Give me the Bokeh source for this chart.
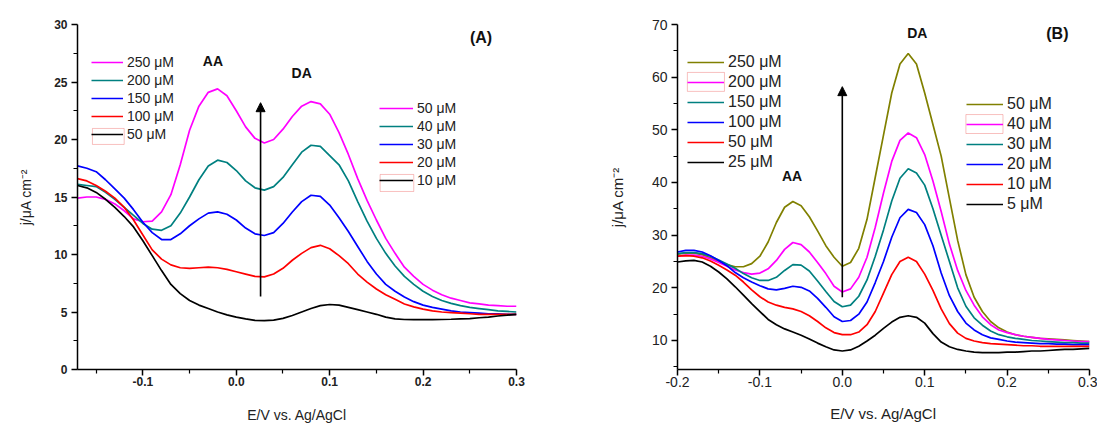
from bokeh.plotting import figure
from bokeh.layouts import row
from bokeh.models import (Legend, LegendItem, FixedTicker, NumeralTickFormatter,
                          Arrow, NormalHead, BoxAnnotation, Range1d, Label)
from bokeh.embed import file_html
from bokeh.resources import INLINE

# ---------------- Panel A data ----------------
E_A = [-0.17, -0.16, -0.15, -0.14, -0.13, -0.12, -0.11, -0.10, -0.09, -0.08,
       -0.07, -0.06, -0.05, -0.04, -0.03, -0.02, -0.01, 0.00, 0.01, 0.02,
       0.03, 0.04, 0.05, 0.06, 0.07, 0.08, 0.09, 0.10, 0.11, 0.12,
       0.13, 0.14, 0.15, 0.16, 0.17, 0.18, 0.19, 0.20, 0.21, 0.22,
       0.23, 0.24, 0.25, 0.26, 0.27, 0.28, 0.29, 0.30]

A_250 = [14.9, 15.0, 15.0, 14.8, 14.4, 13.8, 13.1, 12.85, 12.9, 13.7,
         15.2, 17.8, 20.8, 22.9, 24.1, 24.4, 23.8, 22.5, 21.1, 20.1,
         19.7, 20.0, 20.9, 22.0, 22.9, 23.3, 23.1, 22.2, 20.6, 18.7,
         16.6, 14.7, 13.0, 11.4, 10.1, 8.9, 8.1, 7.4, 6.9, 6.5,
         6.2, 6.0, 5.8, 5.7, 5.6, 5.55, 5.5, 5.5]
A_200 = [16.1, 16.0, 15.9, 15.4, 14.8, 14.1, 13.4, 12.7, 12.2, 12.1,
         12.5, 13.6, 15.0, 16.5, 17.7, 18.2, 18.0, 17.3, 16.4, 15.8,
         15.6, 15.9, 16.7, 17.8, 18.9, 19.5, 19.4, 18.6, 17.8, 16.4,
         14.6, 12.9, 11.4, 10.1, 9.0, 8.1, 7.4, 6.8, 6.35, 6.0,
         5.75, 5.55, 5.4, 5.3, 5.2, 5.1, 5.05, 5.0]
A_150 = [17.7, 17.5, 17.2, 16.5, 15.7, 14.9, 13.9, 12.8, 11.9, 11.3,
         11.3, 11.8, 12.5, 13.1, 13.6, 13.7, 13.5, 13.0, 12.3, 11.8,
         11.65, 11.9, 12.7, 13.7, 14.6, 15.15, 15.05, 14.3, 13.2, 12.0,
         10.7, 9.4, 8.3, 7.4, 6.8, 6.3, 5.9, 5.6, 5.4, 5.25,
         5.1, 5.0, 4.95, 4.9, 4.85, 4.85, 4.8, 4.8]
A_100 = [16.6, 16.4, 16.0, 15.5, 14.9, 14.1, 13.0, 11.7, 10.4, 9.6,
         9.1, 8.85, 8.8, 8.85, 8.9, 8.85, 8.7, 8.5, 8.3, 8.1,
         8.05, 8.3, 8.8, 9.5, 10.1, 10.6, 10.8, 10.5, 9.9, 9.2,
         8.3, 7.6, 7.0, 6.5, 6.1, 5.7, 5.45, 5.25, 5.1, 5.0,
         4.95, 4.9, 4.85, 4.8, 4.8, 4.8, 4.8, 4.8]
A_50 = [16.0, 15.8, 15.4, 14.8, 14.1, 13.3, 12.4, 11.2, 9.9, 8.6,
        7.4, 6.6, 6.0, 5.6, 5.3, 5.0, 4.75, 4.55, 4.4, 4.27,
        4.25, 4.3, 4.45, 4.7, 5.0, 5.3, 5.55, 5.65, 5.6, 5.4,
        5.2, 5.0, 4.8, 4.55, 4.4, 4.35, 4.33, 4.33, 4.33, 4.35,
        4.37, 4.4, 4.42, 4.5, 4.55, 4.65, 4.72, 4.8]

A_series = [A_250, A_200, A_150, A_100, A_50]
A_colors = ["#FF00FF", "#008080", "#0000FF", "#FF0000", "#000000"]
A_labels_AA = ["250 μM", "200 μM", "150 μM", "100 μM", "50 μM"]
A_labels_DA = ["50 μM", "40 μM", "30 μM", "20 μM", "10 μM"]
A_peak_names = ["AA", "DA"]
A_peak_pos = [(-0.025, 26.8), (0.07, 25.8)]
A_xticks = [-0.1, 0.0, 0.1, 0.2, 0.3]
A_xminor = [-0.15, -0.05, 0.05, 0.15, 0.25]
A_yticks = [0, 5, 10, 15, 20, 25, 30]
A_yminor = [2.5, 7.5, 12.5, 17.5, 22.5, 27.5]

# ---------------- Panel B data ----------------
E_B = [-0.20, -0.19, -0.18, -0.17, -0.16, -0.15, -0.14, -0.13, -0.12, -0.11,
       -0.10, -0.09, -0.08, -0.07, -0.06, -0.05, -0.04, -0.03, -0.02, -0.01,
       0.00, 0.01, 0.02, 0.03, 0.04, 0.05, 0.06, 0.07, 0.08, 0.09,
       0.10, 0.11, 0.12, 0.13, 0.14, 0.15, 0.16, 0.17, 0.18, 0.19,
       0.20, 0.21, 0.22, 0.23, 0.24, 0.25, 0.26, 0.27, 0.28, 0.29, 0.30]

B_250 = [26.4, 26.6, 26.6, 26.3, 25.7, 25.0, 24.4, 24.0, 24.0, 24.6,
         26.0, 28.7, 32.4, 35.3, 36.4, 35.6, 33.5, 30.8, 28.0, 25.8,
         24.1, 24.8, 27.5, 33.0, 41.0, 49.0, 57.0, 62.5, 64.5, 62.5,
         57.0, 51.0, 45.0, 37.0, 29.0, 22.5, 18.2, 15.5, 13.6, 12.4,
         11.6, 11.1, 10.8, 10.6, 10.4, 10.3, 10.2, 10.1, 10.0, 9.9, 9.8]
B_200 = [26.0, 26.2, 26.2, 26.0, 25.5, 24.8, 24.1, 23.4, 22.9, 22.6,
         22.8, 23.6, 25.2, 27.3, 28.6, 28.2, 26.8, 24.8, 22.7, 20.3,
         19.2, 19.8, 22.0, 25.8, 31.5, 38.0, 44.0, 48.0, 49.4, 48.5,
         45.3, 40.3, 34.5, 28.3, 23.3, 19.5, 16.7, 14.5, 13.0, 12.0,
         11.5, 11.1, 10.8, 10.6, 10.4, 10.2, 10.1, 10.0, 9.9, 9.8, 9.8]
B_150 = [26.5, 26.7, 26.7, 26.5, 26.0, 25.3, 24.5, 23.7, 22.7, 21.9,
         21.4, 21.4, 22.0, 23.3, 24.4, 24.3, 23.2, 21.3, 19.3, 17.4,
         16.4, 16.7, 18.4, 21.5, 26.0, 31.0, 36.5, 40.8, 42.6, 41.8,
         39.5, 35.0, 30.0, 25.0, 20.0, 16.5, 14.3, 12.9, 11.8, 11.1,
         10.7, 10.4, 10.2, 10.0, 9.9, 9.8, 9.7, 9.6, 9.6, 9.5, 9.5]
B_100 = [26.8, 27.1, 27.1, 26.8, 26.1, 25.2, 24.2, 22.9, 21.9, 21.1,
         20.4, 19.8, 19.6, 19.9, 20.3, 20.1, 19.4, 18.0, 16.3, 14.5,
         13.6, 13.8, 15.0, 17.3, 21.0, 25.0, 29.6, 33.3, 34.9, 34.3,
         32.0, 28.0, 22.8, 18.5, 15.5, 13.3, 12.0, 11.1, 10.5, 10.2,
         9.9, 9.7, 9.6, 9.5, 9.4, 9.4, 9.3, 9.3, 9.2, 9.2, 9.2]
B_50 = [26.0, 26.1, 26.0, 25.7, 25.1, 24.3, 23.4, 22.4, 21.1, 19.6,
        18.3, 17.3, 16.7, 16.3, 16.0, 15.5, 14.7, 13.6, 12.4, 11.5,
        11.1, 11.1, 11.6, 13.0, 15.5, 19.0, 22.5, 25.0, 25.8, 25.0,
        22.6, 19.5, 16.0, 13.2, 11.4, 10.4, 9.9, 9.6, 9.4, 9.3,
        9.2, 9.1, 9.0, 9.0, 8.9, 8.9, 8.9, 8.9, 8.9, 8.9, 8.9]
B_25 = [24.9, 25.1, 25.2, 24.9, 24.1, 23.0, 21.7, 20.2, 18.6, 17.0,
        15.5, 14.0, 13.0, 12.2, 11.6, 11.0, 10.3, 9.5, 8.8, 8.2,
        8.0, 8.2, 8.9, 9.9, 11.0, 12.3, 13.5, 14.4, 14.7, 14.4,
        13.3, 11.3, 9.7, 8.8, 8.3, 8.0, 7.8, 7.7, 7.7, 7.7,
        7.8, 7.8, 7.9, 8.0, 8.0, 8.1, 8.2, 8.3, 8.3, 8.4, 8.5]

B_series = [B_250, B_200, B_150, B_100, B_50, B_25]
B_colors = ["#808000", "#FF00FF", "#008080", "#0000FF", "#FF0000", "#000000"]
B_labels_AA = ["250 μM", "200 μM", "150 μM", "100 μM", "50 μM", "25 μM"]
B_labels_DA = ["50 μM", "40 μM", "30 μM", "20 μM", "10 μM", "5 μM"]
B_peak_names = ["AA", "DA"]
B_peak_pos = [(-0.061, 41.3), (0.091, 68.3)]
B_xticks = [-0.2, -0.1, 0.0, 0.1, 0.2, 0.3]
B_xminor = [-0.15, -0.05, 0.05, 0.15, 0.25]
B_yticks = [10, 20, 30, 40, 50, 60, 70]
B_yminor = [5, 15, 25, 35, 45, 55, 65]

FONT = "Liberation Sans"
TXT = "#222222"
X_TITLE = "E/V vs. Ag/AgCl"
Y_TITLE = "j/μA cm⁻²"


def style_axes(p, tick_font_size, tick_bold, label_size, y_standoff, x_standoff):
    for ax in (p.xaxis[0], p.yaxis[0]):
        ax.axis_line_width = 1.5
        ax.axis_line_color = "black"
        ax.major_tick_line_width = 1.5
        ax.minor_tick_line_width = 1.2
        ax.major_tick_out = 6
        ax.major_tick_in = 0
        ax.minor_tick_out = 4
        ax.minor_tick_in = 0
        ax.major_label_text_font = FONT
        ax.major_label_text_font_size = tick_font_size
        ax.major_label_text_font_style = "bold" if tick_bold else "normal"
        ax.major_label_text_color = TXT
        ax.axis_label_text_font = FONT
        ax.axis_label_text_font_size = label_size
        ax.axis_label_text_font_style = "normal"
        ax.axis_label_text_color = TXT
    p.xaxis[0].major_label_standoff = 1
    p.yaxis[0].major_label_standoff = 4
    p.yaxis[0].axis_label_standoff = y_standoff
    p.xaxis[0].axis_label_standoff = x_standoff
    p.xaxis[0].formatter = NumeralTickFormatter(format="0.0")
    p.xgrid.visible = False
    p.ygrid.visible = False
    p.outline_line_color = None


def make_legend(p, renderers, labels, loc, font_size, glyph_w, row_h):
    lg = Legend(items=[LegendItem(label=l, renderers=[r]) for l, r in zip(labels, renderers)],
                location=loc, orientation="vertical")
    lg.label_text_font = FONT
    lg.label_text_font_size = font_size
    lg.label_text_color = TXT
    lg.glyph_width = glyph_w
    lg.glyph_height = row_h
    lg.label_height = row_h
    lg.label_standoff = 4
    lg.spacing = 0
    lg.padding = 0
    lg.margin = 0
    lg.border_line_color = None
    lg.background_fill_alpha = 0
    p.add_layout(lg, "center")
    return lg


def big_label(p, x, y, t, size):
    p.add_layout(Label(x=x, y=y, text=t, text_font=FONT, text_font_size=size,
                       text_font_style="bold", text_color="#111111", text_align="center",
                       text_baseline="middle"))


# ---------------- Figure A ----------------
pA = figure(width=560, height=425, output_backend="svg", toolbar_location=None,
            x_range=Range1d(-0.17, 0.3), y_range=Range1d(0, 30),
            min_border_left=77, min_border_right=44, min_border_top=24, min_border_bottom=56,
            x_axis_label=X_TITLE, y_axis_label=Y_TITLE)
pA.xaxis[0].ticker = FixedTicker(ticks=A_xticks, minor_ticks=A_xminor)
pA.yaxis[0].ticker = FixedTicker(ticks=A_yticks, minor_ticks=A_yminor)
style_axes(pA, "12px", True, "14px", 17, 18)

rA = []
for ys, c in zip(A_series, A_colors):
    rA.append(pA.line(E_A, ys, line_color=c, line_width=1.7))

make_legend(pA, rA, A_labels_AA, (14, 226), "14px", 32, 18)
make_legend(pA, rA, A_labels_DA, (302, 180), "14px", 34, 18)

pA.add_layout(BoxAnnotation(left=-0.154, right=-0.120, bottom=19.57, top=20.96,
                            fill_alpha=0, line_color="#E8302A", line_width=1))
pA.add_layout(BoxAnnotation(left=0.154, right=0.190, bottom=15.48, top=16.96,
                            fill_alpha=0, line_color="#E8302A", line_width=1))

pA.add_layout(Arrow(end=NormalHead(size=9, fill_color="black", line_color="black"),
                    x_start=0.026, y_start=6.35, x_end=0.026, y_end=23.2,
                    line_color="black", line_width=1.6))

for name, (x, y) in zip(A_peak_names, A_peak_pos):
    big_label(pA, x, y, name, "14px")
big_label(pA, 0.262, 28.9, "(A)", "16px")

# ---------------- Figure B ----------------
pB = figure(width=537, height=425, output_backend="svg", toolbar_location=None,
            x_range=Range1d(-0.2, 0.3), y_range=Range1d(4.49, 70),
            min_border_left=117, min_border_right=8, min_border_top=24, min_border_bottom=56,
            x_axis_label=X_TITLE, y_axis_label=Y_TITLE)
pB.xaxis[0].ticker = FixedTicker(ticks=B_xticks, minor_ticks=B_xminor)
pB.yaxis[0].ticker = FixedTicker(ticks=B_yticks, minor_ticks=B_yminor)
style_axes(pB, "14px", False, "15px", 23, 15)

rB = []
for ys, c in zip(B_series, B_colors):
    rB.append(pB.line(E_B, ys, line_color=c, line_width=1.7))

make_legend(pB, rB, B_labels_AA, (10, 197), "16px", 37, 20)
make_legend(pB, rB, B_labels_DA, (289, 155), "16px", 37, 20)

pB.add_layout(BoxAnnotation(left=-0.188, right=-0.143, bottom=57.3, top=60.9,
                            fill_alpha=0, line_color="#E8302A", line_width=1))
pB.add_layout(BoxAnnotation(left=0.150, right=0.195, bottom=49.3, top=52.9,
                            fill_alpha=0, line_color="#E8302A", line_width=1))

pB.add_layout(Arrow(end=NormalHead(size=9, fill_color="black", line_color="black"),
                    x_start=0.0, y_start=18.2, x_end=0.0, y_end=58.2,
                    line_color="black", line_width=1.6))

for name, (x, y) in zip(B_peak_names, B_peak_pos):
    big_label(pB, x, y, name, "14px")
big_label(pB, 0.261, 68.3, "(B)", "16px")

layout = row(pA, pB)
open("out.html", "w").write(file_html(layout, INLINE))
